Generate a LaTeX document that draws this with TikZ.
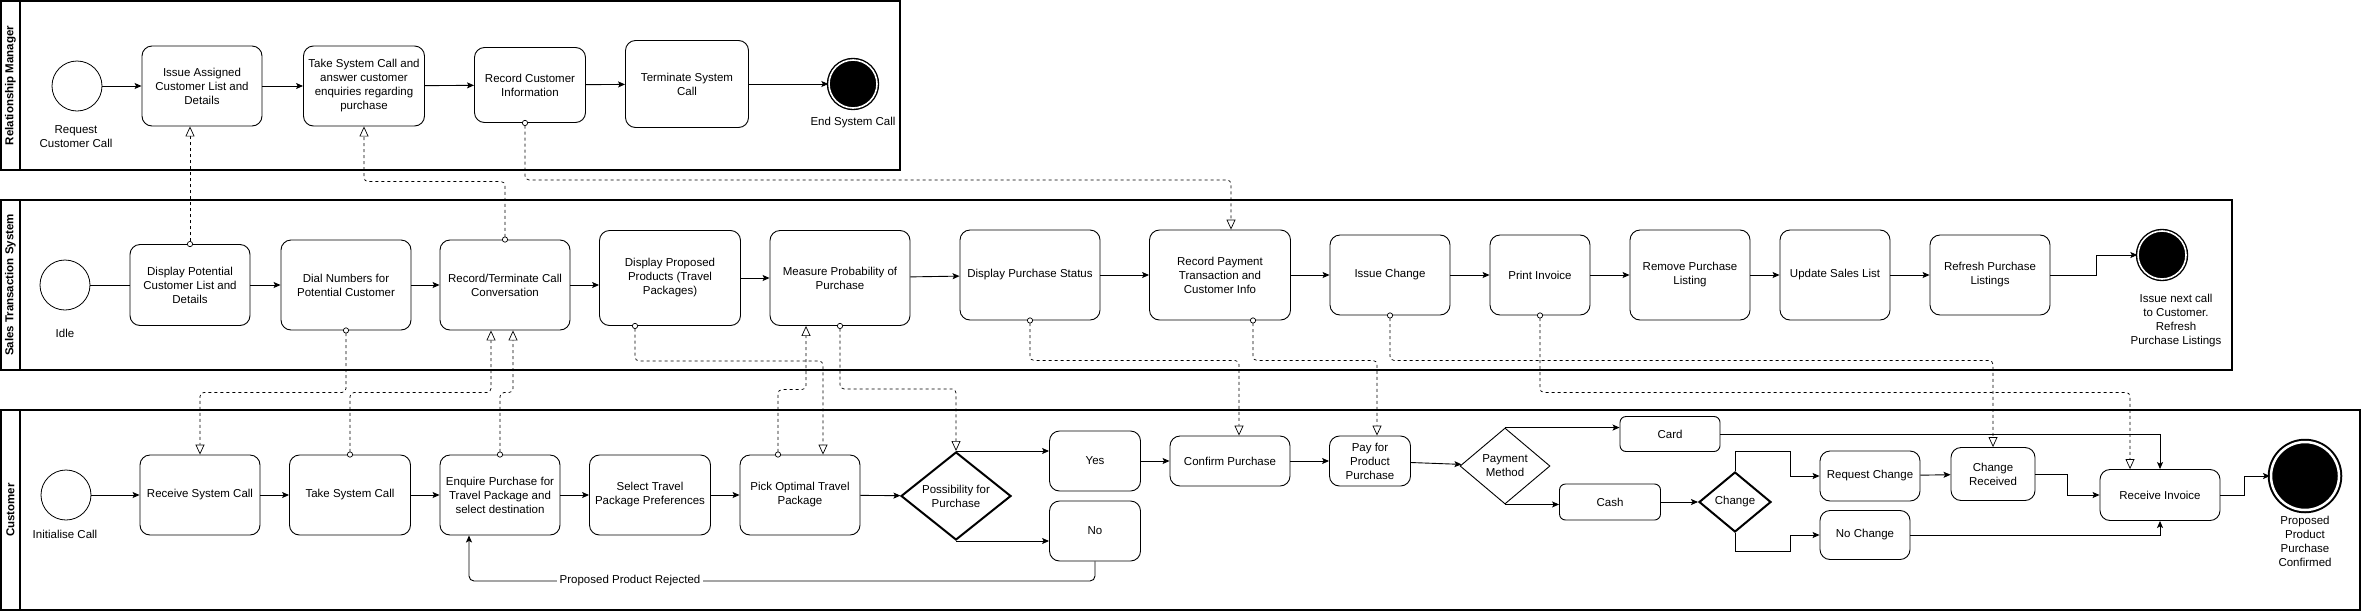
\documentclass[tikz,border=0pt]{standalone}
\usepackage{fontspec}
\setmainfont{Liberation Sans}
\usetikzlibrary{arrows.meta, shapes.geometric}

\begin{document}
\begin{tikzpicture}[x=1pt, y=-1pt,
    font=\fontsize{11.5}{14}\selectfont,
    lane/.style={draw, line width=1.2pt},
    lanetitle/.style={rotate=90, font=\fontsize{11.5}{14}\selectfont\bfseries},
    task/.style={draw, rounded corners=10pt, align=center, inner sep=2pt, line width=0.9pt},
    gate/.style={draw, diamond, align=center, inner sep=0pt, line width=0.9pt},
    thickgate/.style={gate, line width=2pt},
    startev/.style={draw, circle, minimum size=50, inner sep=0pt, line width=0.8pt},
    endev/.style={circle, fill=black, draw=black, double=white, double distance=1.6pt, line width=1.4pt, minimum size=48, inner sep=0pt},
    lbl/.style={align=center, inner sep=1pt},
    line/.style={line width=0.9pt},
    flow/.style={line width=0.9pt, -{Stealth[length=7pt, width=6pt, inset=1.5pt]}},
    msg/.style={line width=0.7pt, dash pattern=on 3pt off 3pt, rounded corners=4pt,
        {Circle[fill=white, length=6pt, width=6pt]}-{Triangle[fill=white, length=10pt, width=9pt]}, shorten <=-3pt}
]
\useasboundingbox (0,0) rectangle (2361,611);

% lanes
\draw[lane] (1,1) rectangle (900,170);
\draw[lane] (20,1) -- (20,170);
\node[lanetitle] (rmTitle) at (10.5,85.5) {Relationship Manager};

\draw[lane] (1,200) rectangle (2232,370);
\draw[lane] (20,200) -- (20,370);
\node[lanetitle] (stsTitle) at (10.5,285) {Sales Transaction System};

\draw[lane] (1,410) rectangle (2360,610);
\draw[lane] (20,410) -- (20,610);
\node[lanetitle] (custTitle) at (10.5,510) {Customer};

% relationship manager
\node[startev] (rmStart) at (77,86) {};
\node[lbl] (rmStartLbl) at (76,137) {Request\\Customer Call};
\node[task, minimum width=120, minimum height=80] (issueList) at (202,86) {Issue Assigned\\Customer List and\\Details};
\node[task, minimum width=121, minimum height=80] (takeCall) at (364,86) {Take System Call and\\answer customer\\enquiries regarding\\purchase};
\node[task, minimum width=111, minimum height=75] (recCust) at (530,85) {Record Customer\\Information};
\node[task, minimum width=123, minimum height=87] (termCall) at (687,84) {Terminate System\\Call};
\node[endev] (rmEnd) at (853,84) {};
\node[lbl] (rmEndLbl) at (853,123) {End System Call};

\draw[flow] (rmStart) -- (issueList);
\draw[flow] (issueList) -- (takeCall);
\draw[flow] (takeCall) -- (recCust);
\draw[flow] (recCust) -- (termCall);
\draw[flow] (termCall) -- (rmEnd);

% sales transaction system
\node[startev] (idle) at (65,285) {};
\node[lbl] (idleLbl) at (65,333) {Idle};
\node[task, minimum width=120, minimum height=81] (dispList) at (190,285) {Display Potential\\Customer List and\\Details};
\node[task, minimum width=130, minimum height=90] (dialNum) at (346,285) {Dial Numbers for\\Potential Customer};
\node[task, minimum width=130, minimum height=90] (recTerm) at (505,285) {Record/Terminate Call\\Conversation};
\node[task, minimum width=141, minimum height=95] (dispProd) at (670,278) {Display Proposed\\Products (Travel\\Packages)};
\node[task, minimum width=140, minimum height=95] (measProb) at (840,278) {Measure Probability of\\Purchase};
\node[task, minimum width=140, minimum height=90] (dispStat) at (1030,275) {Display Purchase Status};
\node[task, minimum width=141, minimum height=90] (recPay) at (1220,275) {Record Payment\\Transaction and\\Customer Info};
\node[task, minimum width=120, minimum height=80] (issChange) at (1390,275) {Issue Change};
\node[task, minimum width=100, minimum height=80] (printInv) at (1540,275) {Print Invoice};
\node[task, minimum width=120, minimum height=90] (remList) at (1690,275) {Remove Purchase\\Listing};
\node[task, minimum width=110, minimum height=90] (updSales) at (1835,275) {Update Sales List};
\node[task, minimum width=120, minimum height=80] (refList) at (1990,275) {Refresh Purchase\\Listings};
\node[endev] (stsEnd) at (2162,255) {};
\node[lbl] (stsEndLbl) at (2176,321) {Issue next call\\to Customer.\\Refresh\\Purchase Listings};

\draw[line] (idle) -- (dispList);
\draw[flow] (dispList) -- (dialNum);
\draw[flow] (dialNum) -- (recTerm);
\draw[flow] (recTerm.east) -- (recTerm.east -| dispProd.west);
\draw[flow] (dispProd) -- (measProb);
\draw[flow] (measProb) -- (dispStat);
\draw[flow] (dispStat) -- (recPay);
\draw[flow] (recPay) -- (issChange);
\draw[flow] (issChange) -- (printInv);
\draw[flow] (printInv) -- (remList);
\draw[flow] (remList) -- (updSales);
\draw[flow] (updSales) -- (refList);
\draw[flow] (refList.east) -- ++(46,0) |- (stsEnd.west);

% customer
\node[startev] (custStart) at (66,495) {};
\node[lbl] (custStartLbl) at (65,534) {Initialise Call};
\node[task, minimum width=120, minimum height=80] (recvCall) at (200,495) {Receive System Call};
\node[task, minimum width=121, minimum height=80] (takeSys) at (350,495) {Take System Call};
\node[task, minimum width=120, minimum height=80] (enqPurch) at (500,495) {Enquire Purchase for\\Travel Package and\\select destination};
\node[task, minimum width=121, minimum height=80] (selPref) at (650,495) {Select Travel\\Package Preferences};
\node[task, minimum width=120, minimum height=80] (pickPkg) at (800,495) {Pick Optimal Travel\\Package};
\node[thickgate, aspect=1.25, minimum width=110, minimum height=88] (possDec) at (956,496) {Possibility for\\Purchase};
\node[task, minimum width=91, minimum height=60] (yesBox) at (1095,461) {Yes};
\node[task, minimum width=91, minimum height=60] (noBox) at (1095,531) {No};
\node[task, minimum width=120, minimum height=50] (confPurch) at (1230,461) {Confirm Purchase};
\node[task, minimum width=81, minimum height=50] (payProd) at (1370,461) {Pay for\\Product\\Purchase};
\node[gate, aspect=1.15, minimum width=90, minimum height=76] (payMeth) at (1505,466) {Payment\\Method};
\node[task, rounded corners=6pt, minimum width=100, minimum height=35] (cardBox) at (1670,434) {Card};
\node[task, rounded corners=6pt, minimum width=101, minimum height=36] (cashBox) at (1610,502) {Cash};
\node[thickgate, aspect=1.2, minimum width=72, minimum height=60] (chgDec) at (1735,502) {Change};
\node[task, minimum width=100, minimum height=50] (reqChg) at (1870,476) {Request Change};
\node[task, minimum width=90, minimum height=49] (noChg) at (1865,535) {No Change};
\node[task, minimum width=84, minimum height=53] (chgRecv) at (1993,474) {Change\\Received};
\node[task, minimum width=120, minimum height=51] (recvInv) at (2160,495) {Receive Invoice};
\node[endev, minimum size=68, line width=2pt, double distance=2.5pt] (custEnd) at (2305,476) {};
\node[lbl] (custEndLbl) at (2305,541) {Proposed\\Product\\Purchase\\Confirmed};

\coordinate (chgUp) at (1790,451);
\coordinate (chgDown) at (1790,551);
\coordinate (rejCorner) at (469,581);

\draw[flow] (custStart) -- (recvCall);
\draw[flow] (recvCall) -- (takeSys);
\draw[flow] (takeSys) -- (enqPurch);
\draw[flow] (enqPurch) -- (selPref);
\draw[flow] (selPref) -- (pickPkg);
\draw[flow] (pickPkg) -- (possDec);
\draw[flow] (possDec.north) -- (possDec.north -| yesBox.west);
\draw[flow] (possDec.south) -- (possDec.south -| noBox.west);
\draw[flow] (yesBox) -- (confPurch);
\draw[flow] (confPurch) -- (payProd);
\draw[flow] (payProd) -- (payMeth);
\draw[flow] (payMeth.north) -- (payMeth.north -| cardBox.west);
\draw[flow] (payMeth.south) -- (payMeth.south -| cashBox.west);
\draw[flow] (cashBox) -- (chgDec);
\draw[flow] (chgDec.north) |- (chgUp) |- (reqChg.west);
\draw[flow] (chgDec.south) |- (chgDown) |- (noChg.west);
\draw[flow] (reqChg) -- (chgRecv);
\draw[flow] (chgRecv.east) -- ++(32,0) |- (recvInv.west);
\draw[flow] (cardBox.east) -| (recvInv.north);
\draw[flow] (noChg.east) -| (recvInv.south);
\draw[flow] (recvInv.east) -- ++(24,0) |- (custEnd.west);
\draw[flow, rounded corners=5pt] (noBox.south) |- (rejCorner) -- (rejCorner |- enqPurch.south);
\node[lbl, fill=white, inner sep=3pt] (rejLbl) at (630,581) {Proposed Product Rejected};

% message flows
\draw[msg] (dispList.north) -- (dispList.north |- issueList.south);
\draw[msg] (recTerm.north) -- ++(0,-58) -| (takeCall.south);
\draw[msg] ([xshift=-5pt]recCust.south) -- ++(0,57) -| ([xshift=11pt]recPay.north);
\draw[msg] (dialNum.south) -- ++(0,62) -| (recvCall.north);
\draw[msg] (takeSys.north) -- ++(0,-62) -| ([xshift=-14pt]recTerm.south);
\draw[msg] (enqPurch.north) -- ++(0,-62) -| ([xshift=8pt]recTerm.south);
\draw[msg] ([xshift=-35pt]dispProd.south) -- ++(0,35) -| ([xshift=23pt]pickPkg.north);
\draw[msg] ([xshift=-22pt]pickPkg.north) -- ++(0,-65) -| ([xshift=-34pt]measProb.south);
\draw[msg] (measProb.south) -- ++(0,63) -| (possDec.north);
\draw[msg] (dispStat.south) -- ++(0,40) -| ([xshift=9pt]confPurch.north);
\draw[msg] ([xshift=33pt]recPay.south) -- ++(0,40) -| ([xshift=7pt]payProd.north);
\draw[msg] (issChange.south) -- ++(0,45) -| (chgRecv.north);
\draw[msg] (printInv.south) -- ++(0,77) -| ([xshift=-30pt]recvInv.north);
\end{tikzpicture}
\end{document}
